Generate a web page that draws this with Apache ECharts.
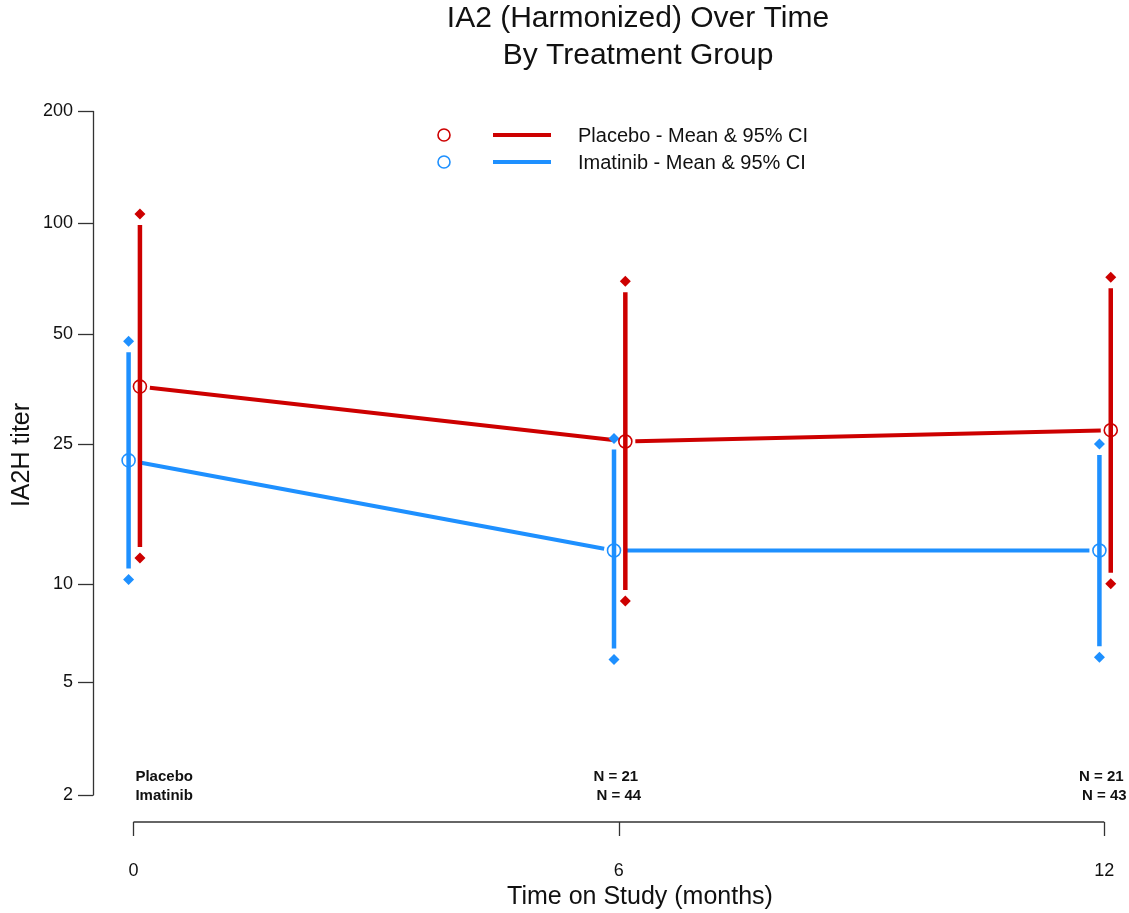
<!DOCTYPE html>
<html><head><meta charset="utf-8">
<script src="https://cdn.jsdelivr.net/npm/echarts@6/dist/echarts.min.js"></script>
<style>html,body{margin:0;padding:0;background:#fff}#c{width:1129px;height:913px}</style>
</head><body><div id="c"></div>
<script>
// ---- data ----
const months = [0, 6, 12];
const yTickValues = [2, 5, 10, 25, 50, 100, 200];
const placeboMean = [36, 25.4, 27.3];
const placeboLo = [11.9, 8.9, 10.0];
const placeboHi = [106, 69.7, 71.5];
const imatinibMean = [22.5, 12.5, 12.5];
const imatinibLo = [10.3, 5.9, 6.0];
const imatinibHi = [47.9, 25.9, 25.0];
const nPlacebo = [null, 21, 21];
const nImatinib = [null, 44, 43];
const groupNames = ['Placebo', 'Imatinib'];

// ---- drawing ----
const T = v => Math.log10(v + 1);
const FONT = '"Liberation Sans", Arial, Helvetica, sans-serif';
const RED = '#CD0000', BLUE = '#1E90FF', AX = '#333';
const dodge = { placebo: 0.08, imatinib: -0.06 };
const yMin = T(2), yMax = T(200);

function ciSeries(color, lo, hi, dx) {
  return {
    type: 'custom', z: 3, silent: true,
    data: months.map((m, i) => [m + dx, T(lo[i]), T(hi[i])]),
    renderItem(params, api) {
      const x = api.value(0);
      const a = api.coord([x, api.value(2)]);
      const b = api.coord([x, api.value(1)]);
      return { type: 'line', shape: { x1: a[0], y1: a[1] + 11, x2: b[0], y2: b[1] - 11 },
        style: { stroke: color, lineWidth: 4.5 } };
    }
  };
}
function meanLine(color, mean, dx) {
  return {
    type: 'custom', z: 3, silent: true,
    data: months.slice(0, -1).map((m, i) => [m + dx, T(mean[i]), months[i + 1] + dx, T(mean[i + 1])]),
    renderItem(params, api) {
      const a = api.coord([api.value(0), api.value(1)]);
      const b = api.coord([api.value(2), api.value(3)]);
      const dxp = b[0] - a[0], dyp = b[1] - a[1];
      const L = Math.sqrt(dxp * dxp + dyp * dyp), g = 10;
      const ux = dxp / L, uy = dyp / L;
      return { type: 'line', shape: { x1: a[0] + ux * g, y1: a[1] + uy * g, x2: b[0] - ux * g, y2: b[1] - uy * g },
        style: { stroke: color, lineWidth: 4 } };
    }
  };
}
function ends(color, lo, hi, dx) {
  return {
    type: 'scatter', z: 4, silent: true, symbol: 'diamond', symbolSize: 11,
    itemStyle: { color: color, opacity: 1 },
    data: months.map((m, i) => [m + dx, T(hi[i])]).concat(months.map((m, i) => [m + dx, T(lo[i])]))
  };
}
function means(color, mean, dx) {
  return {
    type: 'scatter', z: 5, silent: true, symbol: 'circle', symbolSize: 13,
    itemStyle: { color: 'rgba(0,0,0,0)', borderColor: color, borderWidth: 1.6, opacity: 1 },
    data: months.map((m, i) => [m + dx, T(mean[i])])
  };
}

const chart = echarts.init(document.getElementById('c'), null, { renderer: 'canvas' });
chart.setOption({
  backgroundColor: '#fff',
  animation: false,
  grid: { left: 93, top: 111.5, height: 683.5, width: 1031.5 },
  xAxis: {
    type: 'value', min: -0.5, max: 12.25, offset: 27,
    splitLine: { show: false },
    axisLine: { show: false, onZero: false },
    axisTick: { show: true, length: 14, customValues: months, lineStyle: { color: AX, width: 1.3 } },
    axisLabel: { customValues: months, margin: 40, fontSize: 18, color: '#111', fontFamily: FONT }
  },
  yAxis: {
    type: 'value', min: yMin, max: yMax,
    splitLine: { show: false },
    axisLine: { show: true, onZero: false, lineStyle: { color: AX, width: 1.3 } },
    axisTick: { show: true, length: 15, customValues: yTickValues.map(T), lineStyle: { color: AX, width: 1.3 } },
    axisLabel: { customValues: yTickValues.map(T), margin: 20, fontSize: 18, color: '#111', fontFamily: FONT,
      formatter: v => String(Math.round(Math.pow(10, v) - 1)) }
  },
  graphic: [
    { type: 'text', x: 638, y: 19, style: { text: 'IA2 (Harmonized) Over Time', font: '30px ' + FONT, fill: '#111', align: 'center', verticalAlign: 'middle' } },
    { type: 'text', x: 638, y: 56, style: { text: 'By Treatment Group', font: '30px ' + FONT, fill: '#111', align: 'center', verticalAlign: 'middle' } },
    { type: 'text', x: 640, y: 897, style: { text: 'Time on Study (months)', font: '25px ' + FONT, fill: '#111', align: 'center', verticalAlign: 'middle' } },
    { type: 'text', x: 22, y: 455, rotation: Math.PI / 2, style: { text: 'IA2H titer', font: '25px ' + FONT, fill: '#111', align: 'center', verticalAlign: 'middle' } },
    { type: 'circle', shape: { cx: 444, cy: 135, r: 6 }, style: { fill: 'none', stroke: RED, lineWidth: 1.6 } },
    { type: 'circle', shape: { cx: 444, cy: 162, r: 6 }, style: { fill: 'none', stroke: BLUE, lineWidth: 1.6 } },
    { type: 'line', shape: { x1: 493, y1: 135, x2: 551, y2: 135 }, style: { stroke: RED, lineWidth: 4 } },
    { type: 'line', shape: { x1: 493, y1: 162, x2: 551, y2: 162 }, style: { stroke: BLUE, lineWidth: 4 } },
    { type: 'text', x: 578, y: 136, style: { text: 'Placebo - Mean & 95% CI', font: '20px ' + FONT, fill: '#111', verticalAlign: 'middle' } },
    { type: 'text', x: 578, y: 163, style: { text: 'Imatinib - Mean & 95% CI', font: '20px ' + FONT, fill: '#111', verticalAlign: 'middle' } }
  ],
  series: [
    {
      type: 'custom', silent: true, z: 2, data: [[months[0], yMin, months[months.length - 1]]],
      renderItem(params, api) {
        const a = api.coord([api.value(0), api.value(1)]);
        const b = api.coord([api.value(2), api.value(1)]);
        return { type: 'line', shape: { x1: a[0], y1: a[1] + 27, x2: b[0], y2: b[1] + 27 }, style: { stroke: AX, lineWidth: 1.3 } };
      }
    },
    {
      type: 'custom', silent: true, z: 2,
      data: months.map((m, i) => [m, yMin, i]),
      renderItem(params, api) {
        const i = api.value(2);
        const p = api.coord([api.value(0), api.value(1)]);
        const first = i === 0;
        const t1 = first ? groupNames[0] : 'N = ' + nPlacebo[i];
        const t2 = first ? groupNames[1] : 'N = ' + nImatinib[i];
        const x = first ? p[0] + 2 : p[0] - 3;
        const al = first ? 'left' : 'center';
        return { type: 'group', children: [
          { type: 'text', x: x, y: p[1] - 18, style: { text: t1, font: 'bold 15px ' + FONT, fill: '#111', align: al, verticalAlign: 'middle' } },
          { type: 'text', x: first ? x : x + 3, y: p[1] + 1, style: { text: t2, font: 'bold 15px ' + FONT, fill: '#111', align: al, verticalAlign: 'middle' } }
        ] };
      }
    },
    meanLine(RED, placeboMean, dodge.placebo),
    meanLine(BLUE, imatinibMean, dodge.imatinib),
    ciSeries(BLUE, imatinibLo, imatinibHi, dodge.imatinib),
    ciSeries(RED, placeboLo, placeboHi, dodge.placebo),
    ends(BLUE, imatinibLo, imatinibHi, dodge.imatinib),
    ends(RED, placeboLo, placeboHi, dodge.placebo),
    means(BLUE, imatinibMean, dodge.imatinib),
    means(RED, placeboMean, dodge.placebo)
  ]
});
</script></body></html>
